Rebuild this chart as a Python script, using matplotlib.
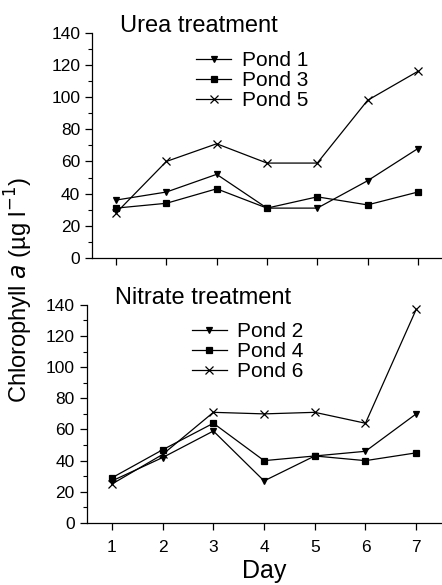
"""Chlorophyll a in ponds: urea vs nitrate treatment, two stacked panels."""

import matplotlib

matplotlib.use("Agg")
import matplotlib.pyplot as plt
from matplotlib.ticker import MultipleLocator

plt.rcParams["font.family"] = ["Liberation Sans", "DejaVu Sans"]

days = [1, 2, 3, 4, 5, 6, 7]

# urea treatment
pond1 = [36, 41, 52, 31, 31, 48, 68]
pond3 = [31, 34, 43, 31, 38, 33, 41]
pond5 = [28, 60, 71, 59, 59, 98, 116]

# nitrate treatment
pond2 = [27, 42, 59, 27, 43, 46, 70]
pond4 = [29, 47, 64, 40, 43, 40, 45]
pond6 = [25, 44, 71, 70, 71, 64, 137]

urea_labels = ["Pond 1", "Pond 3", "Pond 5"]
nitrate_labels = ["Pond 2", "Pond 4", "Pond 6"]
markers = ["v", "s", "x"]

fig = plt.figure(figsize=(4.42, 5.85), dpi=100)
ax_top = fig.add_axes([0.208, 0.559, 0.792, 0.385])
ax_bot = fig.add_axes([0.196, 0.106, 0.804, 0.373])


def draw_panel(ax, series, labels, title, legend_x, legend_y, xlim):
    for vals, lab, m in zip(series, labels, markers):
        ms = 6 if m == "x" else 5
        ax.plot(days, vals, color="black", lw=0.9, marker=m, ms=ms,
                mew=0.9, label=lab)
    ax.set_xlim(*xlim)
    ax.set_ylim(0, 140)
    ax.set_xticks(days)
    ax.yaxis.set_major_locator(MultipleLocator(20))
    ax.yaxis.set_minor_locator(MultipleLocator(10))
    for side in ("top", "right"):
        ax.spines[side].set_visible(False)
    ax.spines["left"].set_linewidth(0.9)
    ax.spines["bottom"].set_linewidth(0.9)
    ax.tick_params(axis="both", direction="out", length=5, width=0.9,
                   labelsize=12.5)
    ax.tick_params(axis="x", pad=7)
    ax.tick_params(axis="y", which="minor", direction="out", length=3,
                   width=0.8)
    ax.text(0.08, 1.03, title, transform=ax.transAxes, fontsize=17,
            va="center", ha="left")
    ax.legend(loc="upper left", bbox_to_anchor=(legend_x, legend_y),
              frameon=False, fontsize=15, handlelength=1.7,
              handletextpad=0.5, labelspacing=0.05, borderpad=0)


draw_panel(ax_top, [pond1, pond3, pond5], urea_labels, "Urea treatment",
           0.267, 0.965, (0.52, 7.48))
ax_top.tick_params(axis="x", labelbottom=False)

draw_panel(ax_bot, [pond2, pond4, pond6], nitrate_labels,
           "Nitrate treatment", 0.266, 0.968, (0.5, 7.51))
ax_bot.set_xlabel("Day", fontsize=18, labelpad=3)

fig.text(0.043, 0.505, r"Chlorophyll $\it{a}$ (µg l$^{-1}$)", rotation=90,
         fontsize=17, ha="center", va="center")

fig.savefig("out.png", dpi=100)
